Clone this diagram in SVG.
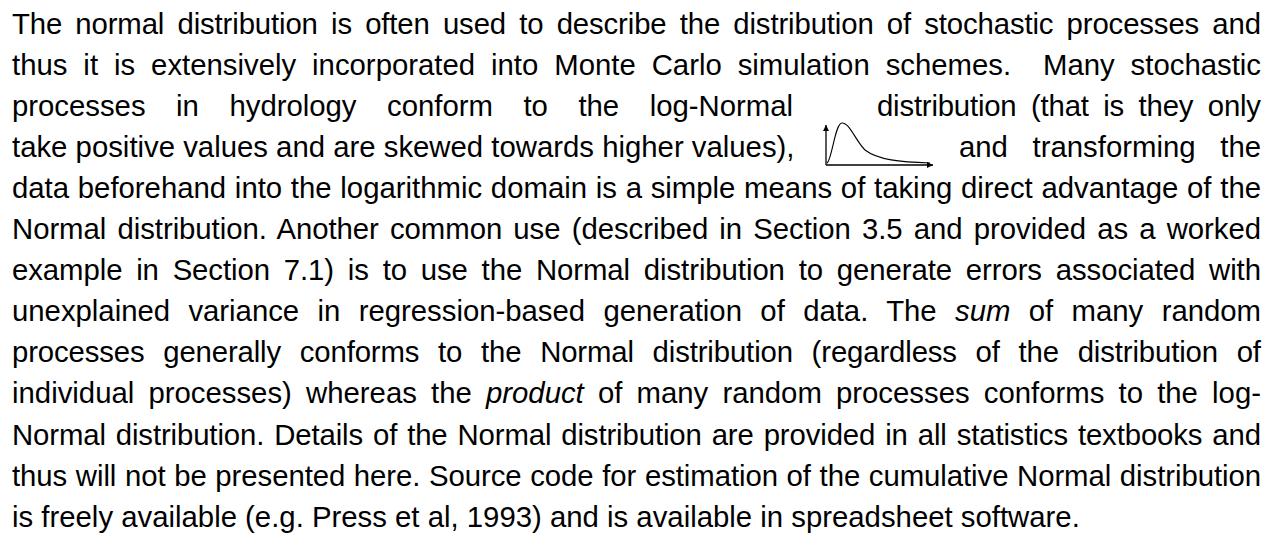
<svg xmlns="http://www.w3.org/2000/svg" width="1282" height="545" viewBox="0 0 1282 545">
<style>
text{font-family:"Liberation Sans",Arial,Helvetica,sans-serif;font-size:29.33px;fill:#000}
.ax{stroke:#000;stroke-width:1.3;fill:none}
.cv{stroke:#000;stroke-width:1.1;fill:none}
</style>
<defs>
<marker id="ah" markerWidth="8" markerHeight="8" refX="6" refY="3" orient="auto" markerUnits="userSpaceOnUse">
<path d="M0,0 L6,3 L0,6 Z" fill="#000"/>
</marker>
</defs>
<rect width="1282" height="545" fill="#fff"/>
<g id="paragraph">
<text x="12" y="33.5" textLength="1249" lengthAdjust="spacing" style="word-spacing:5.18px">The normal distribution is often used to describe the distribution of stochastic processes and</text>
<text x="12" y="74.6" textLength="1249" lengthAdjust="spacing" style="word-spacing:7.78px;white-space:pre">thus it is extensively incorporated into Monte Carlo simulation schemes.  Many stochastic</text>
<text x="12" y="115.7" textLength="781" lengthAdjust="spacing" style="word-spacing:22.4px">processes in hydrology conform to the log-Normal</text>
<text x="877" y="115.7" textLength="384" lengthAdjust="spacing" style="word-spacing:6.6px">distribution (that is they only</text>
<text x="12" y="156.8">take positive values and are skewed towards higher values),</text>
<text x="959" y="156.8" textLength="302" lengthAdjust="spacing" style="word-spacing:16.5px">and transforming the</text>
<text x="12" y="197.9" textLength="1249" lengthAdjust="spacing" style="word-spacing:0.56px">data beforehand into the logarithmic domain is a simple means of taking direct advantage of the</text>
<text x="12" y="239" textLength="1249" lengthAdjust="spacing" style="word-spacing:3.11px">Normal distribution. Another common use (described in Section 3.5 and provided as a worked</text>
<text x="12" y="280.1" textLength="1249" lengthAdjust="spacing" style="word-spacing:5.69px">example in Section 7.1) is to use the Normal distribution to generate errors associated with</text>
<text x="12" y="321.2" textLength="1249" lengthAdjust="spacing" style="word-spacing:10.25px">unexplained variance in regression-based generation of data. The <tspan font-style="italic">sum</tspan> of many random</text>
<text x="12" y="362.3" textLength="1249" lengthAdjust="spacing" style="word-spacing:10.73px">processes generally conforms to the Normal distribution (regardless of the distribution of</text>
<text x="12" y="403.4" textLength="1249" lengthAdjust="spacing" style="word-spacing:6.01px">individual processes) whereas the <tspan font-style="italic">product</tspan> of many random processes conforms to the log-</text>
<text x="12" y="444.5" textLength="1249" lengthAdjust="spacing" style="word-spacing:1.94px">Normal distribution. Details of the Normal distribution are provided in all statistics textbooks and</text>
<text x="12" y="485.6" textLength="1249" lengthAdjust="spacing" style="word-spacing:0.56px">thus will not be presented here. Source code for estimation of the cumulative Normal distribution</text>
<text x="12" y="526.7">is freely available (e.g. Press et al, 1993) and is available in spreadsheet software.</text>
</g>
<g id="lognormal-icon">
<line class="ax" x1="826" y1="165" x2="826" y2="125" marker-end="url(#ah)"/>
<line class="ax" x1="826" y1="165" x2="933" y2="165" marker-end="url(#ah)"/>
<path class="cv" d="M827,163 C832,160 835,123 842,123 C850,123 855,140 865,150 C878,160 900,162 930,163"/>
</g>
</svg>
